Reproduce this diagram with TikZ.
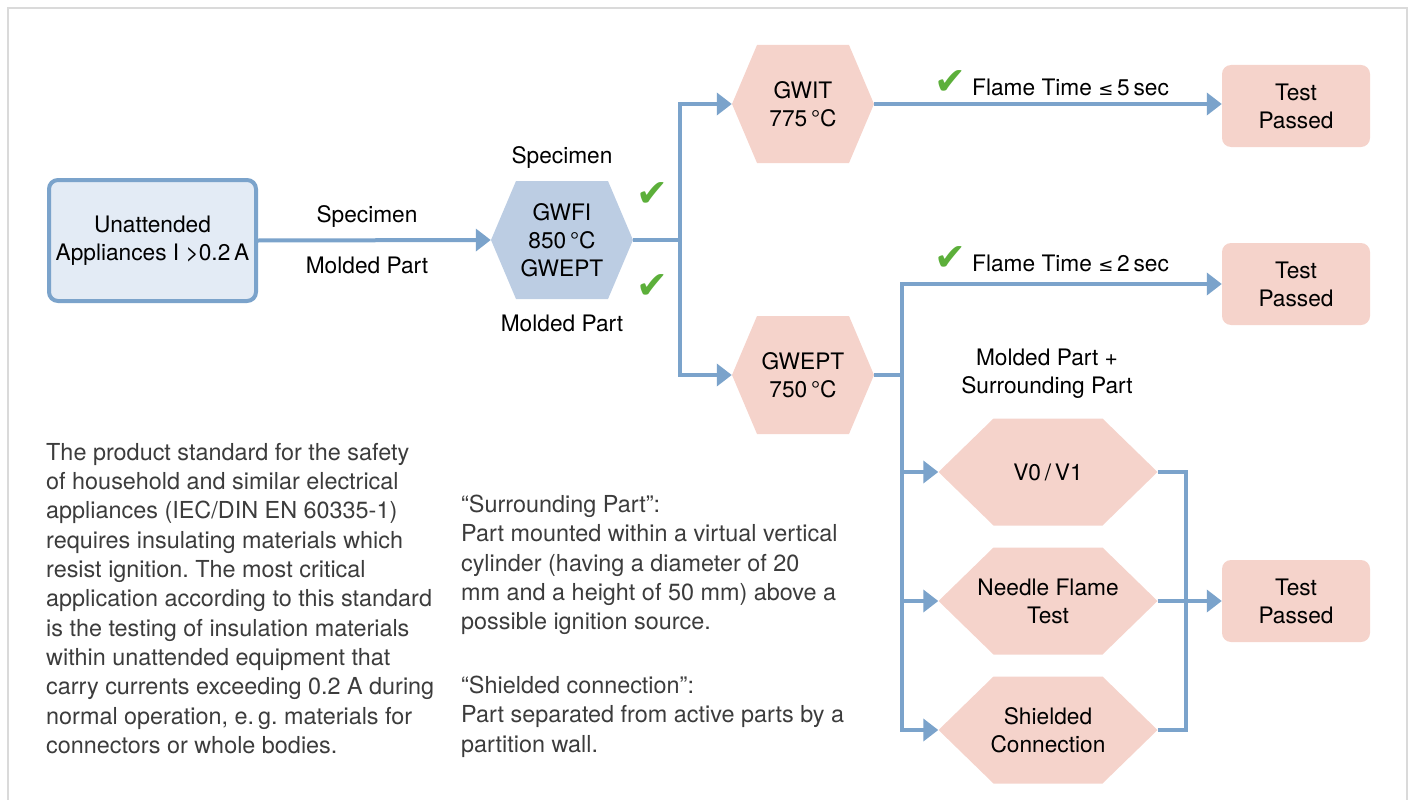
\documentclass[tikz,border=0pt]{standalone}
\usepackage{fontspec}
\setmainfont{TeX Gyre Heros}
\newfontfamily\dejavu{DejaVu Sans}
\usepackage{tikz}
\usepackage{xcolor}
\usetikzlibrary{arrows.meta}
\usetikzlibrary{positioning}
\frenchspacing

\definecolor{flowblue}{HTML}{7BA3CB}
\definecolor{boxblue}{HTML}{E3EBF5}
\definecolor{hexblue}{HTML}{BCCDE3}
\definecolor{hexpink}{HTML}{F5D3CB}
\definecolor{okgreen}{HTML}{5CAF3A}
\definecolor{framegray}{HTML}{DADADA}
\definecolor{bodygray}{HTML}{3C3C3C}

\newcommand{\lblfont}{\fontsize{22.7}{28}\selectfont}
\newcommand{\bodyfont}{\fontsize{23.4}{29.3}\selectfont}
\newcommand{\lesseq}{{\dejavu\fontsize{18}{18}\selectfont ≤}}

\tikzset{
  hex slant/.store in=\hexslant, hex slant=25pt,
  hex colour/.store in=\hexcolour, hex colour=hexpink,
  hexnode/.style={inner sep=0pt, align=center, font=\lblfont,
    path picture={
      \fill[\hexcolour] ([xshift=\hexslant]path picture bounding box.north west)
        -- ([xshift=-\hexslant]path picture bounding box.north east)
        -- (path picture bounding box.east)
        -- ([xshift=-\hexslant]path picture bounding box.south east)
        -- ([xshift=\hexslant]path picture bounding box.south west)
        -- (path picture bounding box.west) -- cycle;}},
  hexbig/.style={hexnode, minimum width=142pt, minimum height=118pt, hex slant=25pt},
  hexwide/.style={hexnode, minimum width=219pt, minimum height=107pt, hex slant=55pt},
  appbox/.style={draw=flowblue, line width=4pt, fill=boxblue, rounded corners=9pt,
    minimum width=207pt, minimum height=121pt, align=center, font=\lblfont},
  passbox/.style={fill=hexpink, rounded corners=9pt, minimum width=148pt,
    minimum height=82pt, align=center, font=\lblfont},
  lbl/.style={inner sep=0pt, font=\lblfont},
  bodytxt/.style={inner sep=0pt, anchor=north west, align=left, font=\bodyfont, text=bodygray},
  okmark/.style={inner sep=0pt, text=okgreen, font=\dejavu\fontsize{38}{38}\selectfont},
  link/.style={draw=flowblue, line width=4pt},
  flow/.style={link, -{Triangle[length=15pt,width=22pt]}},
}

\begin{document}
\begin{tikzpicture}[x=1pt,y=-1pt]
\useasboundingbox (0,0) rectangle (1416,800);
\draw[framegray, line width=1.5pt] (8,800) -- (8,8) -- (1407,8) -- (1407,800);

% start and first test
\node[appbox] (appl) at (152.5,240.5) {Unattended\\Appliances I >0.2\,A};
\node[hexbig, hex colour=hexblue] (gwfi) at (562,240) {GWFI\\850\,°C\\GWEPT};
\node[lbl] (specA) at (367,216) {Specimen};
\node[lbl] (moldA) at (367,265) {Molded Part};
\node[lbl] (specB) at (562,157) {Specimen};
\node[lbl] (moldB) at (562,323) {Molded Part};
\node[okmark] (okA) at (652,195) {✔};
\node[okmark] (okB) at (652,287) {✔};

% second tests
\node[hexbig] (gwit) at (803,104) {GWIT\\775\,°C};
\node[hexbig] (gwept) at (803,375) {GWEPT\\750\,°C};
\node[okmark] (okC) at (950,83) {✔};
\node[okmark] (okD) at (950,259) {✔};
\node[lbl, anchor=west] (flameA) at (972,87) {Flame Time \lesseq\,5\,sec};
\node[lbl, anchor=west] (flameB) at (972,263) {Flame Time \lesseq\,2\,sec};
\node[lbl, align=center] (surr) at (1047,374) {Molded Part +\\Surrounding Part};

% third tests
\node[hexwide] (vzero) at (1048,472) {V0\,/\,V1};
\node[hexwide] (needle) at (1048,601) {Needle Flame\\Test};
\node[hexwide] (shield) at (1048,730) {Shielded\\Connection};

% results
\node[passbox] (passA) at (1296,106) {Test\\Passed};
\node[passbox] (passB) at (1296,284) {Test\\Passed};
\node[passbox] (passC) at (1296,601) {Test\\Passed};

% connectors
\coordinate (splitA) at (680,240);
\coordinate (splitB) at (902,375);
\coordinate (mergeA) at (1186,601);
\draw[flow] (appl.east) -- (gwfi.west);
\draw[link] (gwfi.east) -- (splitA);
\draw[flow] (splitA) |- (gwit.west);
\draw[flow] (splitA) |- (gwept.west);
\draw[flow] (gwit.east) -- (gwit.east -| passA.west);
\draw[link] (gwept.east) -- (splitB);
\draw[flow] (splitB) |- (passB.west);
\draw[flow] (splitB) |- (vzero.west);
\draw[flow] (splitB) |- (needle.west);
\draw[flow] (splitB) |- (shield.west);
\draw[link] (vzero.east) -| (mergeA);
\draw[link] (shield.east) -| (mergeA);
\draw[flow] (needle.east) -- (passC.west);

% notes
\node[bodytxt] (stdnote) at (46,443) {The product standard for the safety\\
of household and similar electrical\\
appliances (IEC/DIN EN 60335-1)\\
requires insulating materials which\\
resist ignition. The most critical\\
application according to this standard\\
is the testing of insulation materials\\
within unattended equipment that\\
carry currents exceeding 0.2 A during\\
normal operation, e.\,g. materials for\\
connectors or whole bodies.};
\node[bodytxt] (surrnote) at (461,495) {“Surrounding Part”:\\
Part mounted within a virtual vertical\\
cylinder (having a diameter of 20\\
mm and a height of 50 mm) above a\\
possible ignition source.};
\node[bodytxt] (shieldnote) at (461,676) {“Shielded connection”:\\
Part separated from active parts by a\\
partition wall.};
\end{tikzpicture}
\end{document}
